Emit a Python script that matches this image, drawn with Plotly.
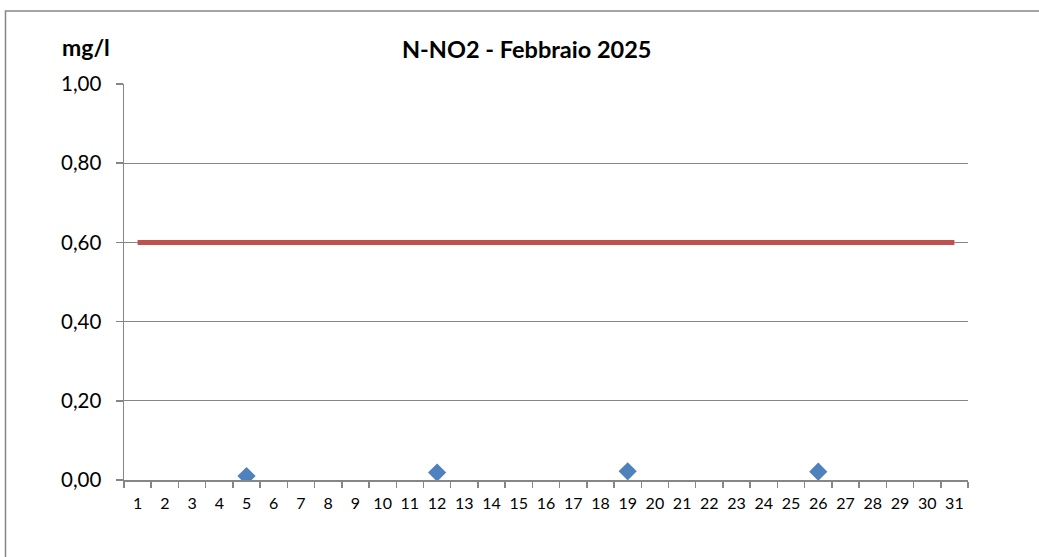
import plotly.graph_objects as go

# ---- data ----
days = ["1", "2", "3", "4", "5", "6", "7", "8", "9", "10", "11", "12", "13", "14", "15", "16",
        "17", "18", "19", "20", "21", "22", "23", "24", "25", "26", "27", "28", "29", "30", "31"]
limit_values = [0.60, 0.60, 0.60, 0.60, 0.60, 0.60, 0.60, 0.60, 0.60, 0.60, 0.60, 0.60, 0.60, 0.60, 0.60, 0.60,
                0.60, 0.60, 0.60, 0.60, 0.60, 0.60, 0.60, 0.60, 0.60, 0.60, 0.60, 0.60, 0.60, 0.60, 0.60]
sample_days = ["5", "12", "19", "26"]
sample_values = [0.010, 0.019, 0.022, 0.021]
y_ticks = [0.0, 0.2, 0.4, 0.6, 0.8, 1.0]
title_text = "N-NO2 - Febbraio 2025"
unit_text = "mg/l"

FONT = "Lato"
GRID = "#868686"

fig = go.Figure()
fig.add_trace(go.Scatter(
    x=days, y=limit_values, mode="lines",
    line=dict(color="#C0504D", width=5),
    hoverinfo="skip", showlegend=False,
))
fig.add_trace(go.Scatter(
    x=sample_days, y=sample_values, mode="markers",
    marker=dict(symbol="diamond", size=14, color="#4F81BD"),
    showlegend=False,
))

W, H = 1039, 557
L, R, T, B = 124, 71, 84, 77
pw, ph = W - L - R, H - T - B

def px_x(x):
    return (x - L) / pw

def px_y(y):
    return (H - B - y) / ph

fig.update_layout(
    width=W, height=H,
    margin=dict(l=L, r=R, t=T, b=B),
    paper_bgcolor="white", plot_bgcolor="white",
    separators=",.",
    font=dict(family=FONT, color="black"),
    xaxis=dict(
        type="category", categoryorder="array", categoryarray=days,
        range=[-0.5, 30.5], tickson="boundaries", tickangle=0,
        showline=True, linecolor=GRID, linewidth=1.5,
        ticks="outside", ticklen=6, tickcolor=GRID, tickwidth=1.5,
        showgrid=False, tickfont=dict(size=16, family=FONT),
        ticklabelstandoff=8, fixedrange=True,
    ),
    yaxis=dict(
        range=[0, 1], tickvals=y_ticks, tickformat=".2f",
        showline=True, linecolor=GRID, linewidth=1.5,
        ticks="outside", ticklen=7, tickcolor=GRID, tickwidth=1.5,
        showgrid=True, gridcolor=GRID, gridwidth=1,
        zeroline=False, tickfont=dict(size=20.5, family=FONT),
        ticklabelstandoff=10, fixedrange=True,
    ),
    shapes=[dict(
        type="rect", xref="paper", yref="paper",
        x0=px_x(5.5), x1=px_x(1060), y0=px_y(575), y1=px_y(11),
        line=dict(color=GRID, width=1.5), fillcolor="rgba(0,0,0,0)", layer="below",
    )],
    annotations=[
        dict(text="<b>" + title_text + "</b>", xref="paper", yref="paper",
             x=px_x(527), y=px_y(49), xanchor="center", yanchor="middle",
             showarrow=False, font=dict(size=23.5, family=FONT)),
        dict(text="<b>" + unit_text + "</b>", xref="paper", yref="paper",
             x=px_x(60), y=px_y(47), xanchor="left", yanchor="middle",
             showarrow=False, font=dict(size=23, family=FONT)),
    ],
)

fig.write_html(
    "out.html",
    config={"displayModeBar": False, "staticPlot": True},
    post_script="document.body.style.margin='0px';document.body.style.overflow='hidden';",
)
